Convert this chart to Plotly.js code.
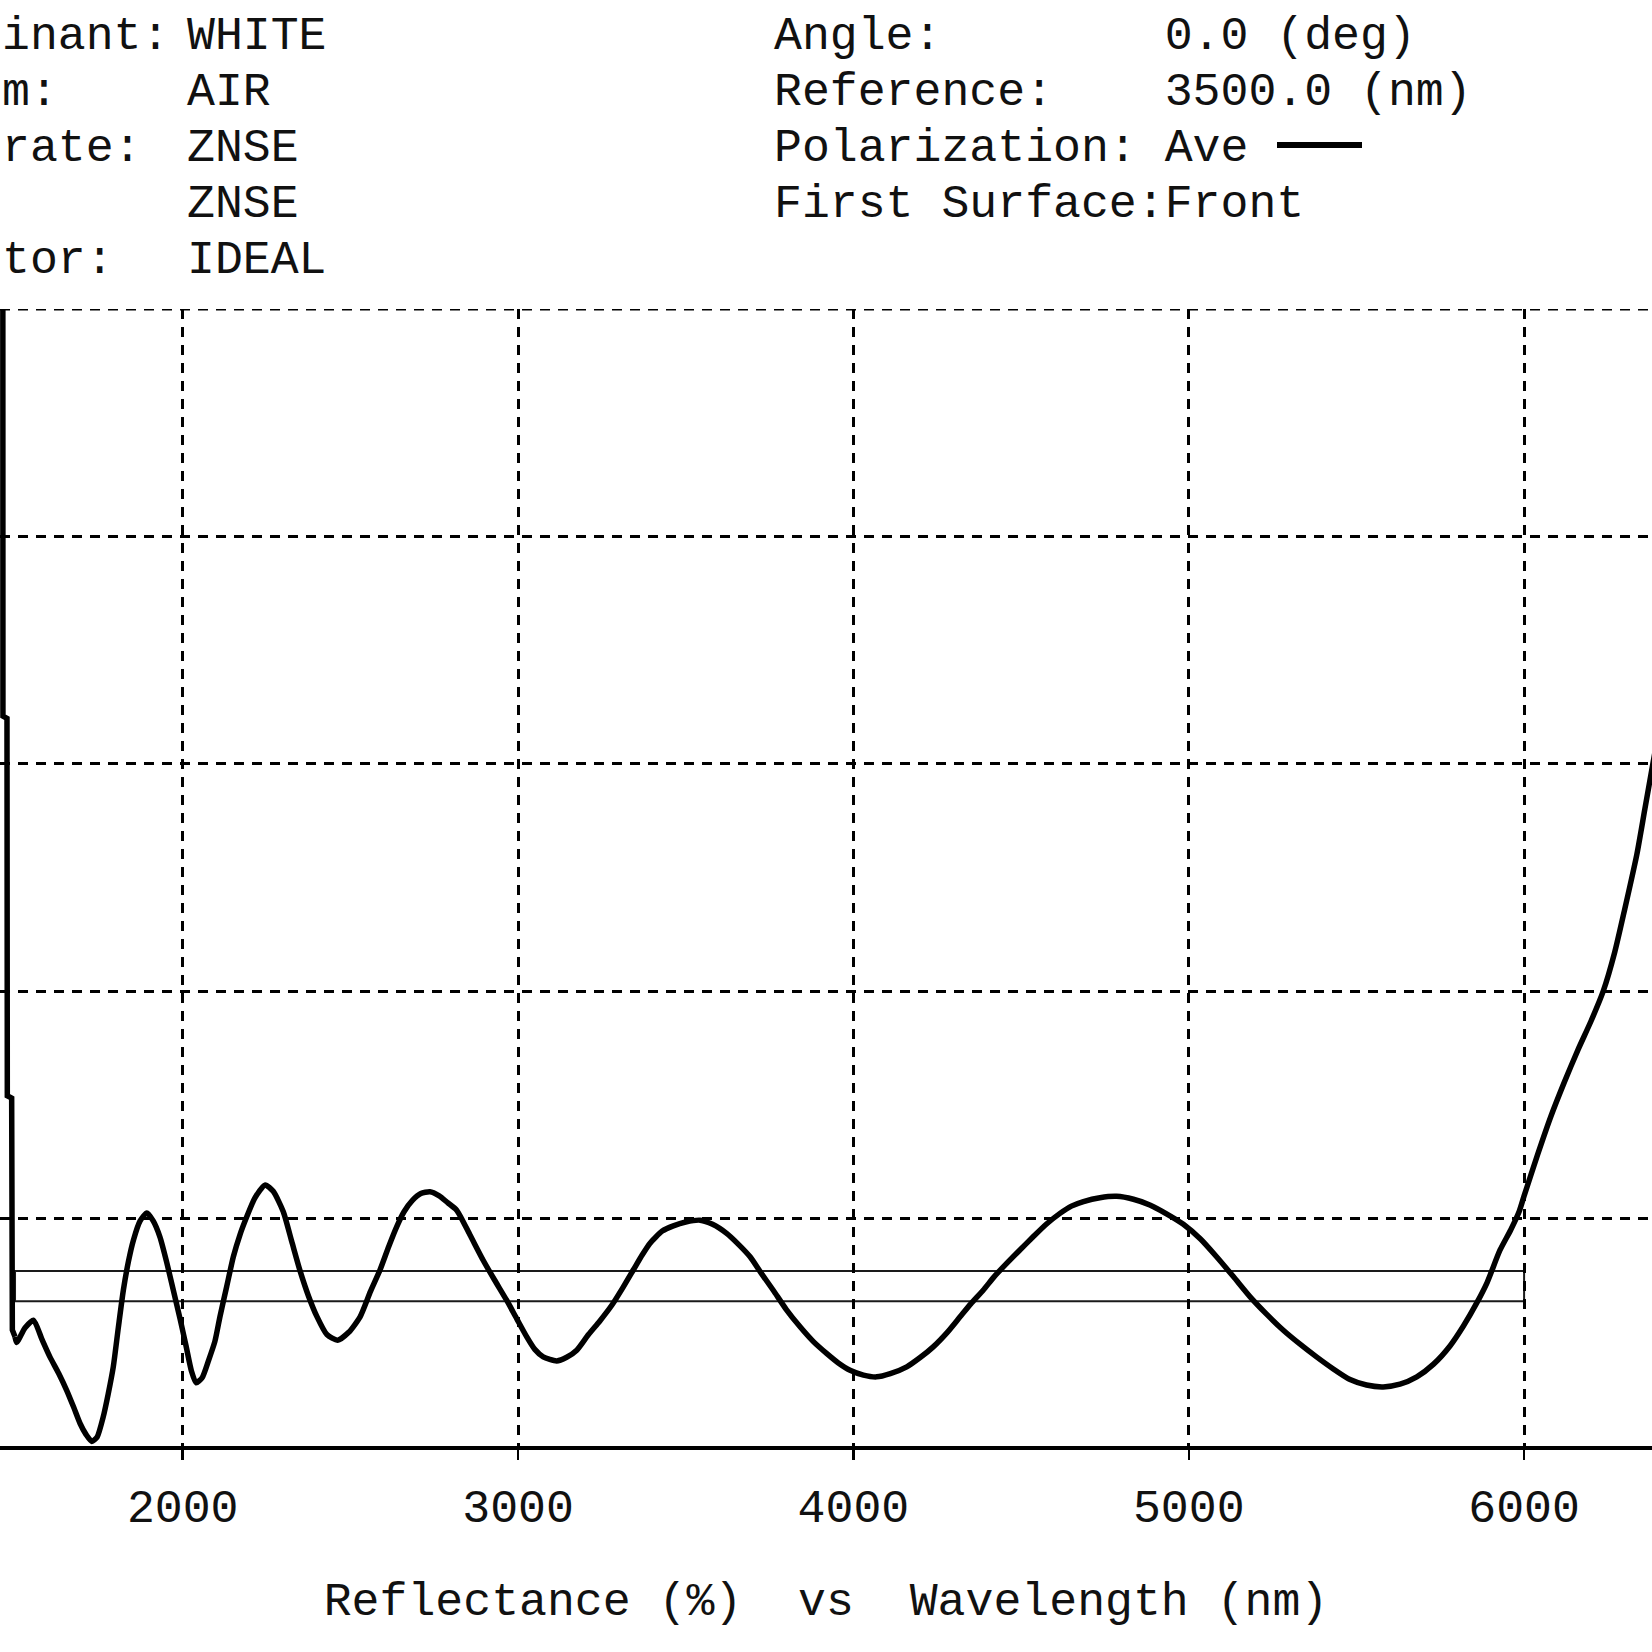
<!DOCTYPE html>
<html>
<head>
<meta charset="utf-8">
<script src="https://cdn.plot.ly/plotly-3.0.1.min.js"></script>
<style>
  html, body { margin: 0; padding: 0; background: #ffffff; }
  #chart { width: 1652px; height: 1652px; }
</style>
</head>
<body>
<div id="chart"></div>
<script>
// ---- data ----
const wavelengthNm = [
  1463, 1464, 1476, 1477, 1490, 1492, 1500, 1505, 1530, 1555,
  1580, 1604, 1630, 1654, 1675, 1694, 1712, 1729, 1745, 1763,
  1778, 1793, 1808, 1823, 1838, 1853, 1873, 1893, 1912, 1932,
  1952, 1972, 1992, 2010, 2026, 2040, 2058, 2078, 2096, 2111,
  2131, 2151, 2171, 2191, 2215, 2246, 2270, 2300, 2325, 2350,
  2375, 2400, 2430, 2462, 2495, 2529, 2560, 2588, 2615, 2638,
  2660, 2685, 2710, 2737, 2765, 2790, 2817, 2856, 2896, 2930,
  2966, 2996, 3026, 3050, 3075, 3115, 3145, 3175, 3210, 3244,
  3280, 3314, 3344, 3370, 3393, 3430, 3463, 3500, 3543, 3580,
  3622, 3655, 3692, 3725, 3761, 3800, 3841, 3880, 3920, 3955,
  3990, 4030, 4069, 4110, 4159, 4200, 4238, 4280, 4318, 4350,
  4387, 4420, 4457, 4495, 4536, 4575, 4616, 4650, 4686, 4735,
  4785, 4835, 4884, 4935, 4984, 5035, 5083, 5133, 5183, 5232,
  5282, 5330, 5381, 5430, 5481, 5530, 5580, 5630, 5680, 5730,
  5779, 5820, 5858, 5890, 5928, 5960, 5985, 6000, 6040, 6080,
  6120, 6160, 6200, 6236, 6270, 6300, 6336, 6360, 6390
];
const reflectancePct = [
  9.0, 3.21, 3.20, 1.54, 1.53, 0.51, 0.48, 0.455, 0.52, 0.553,
  0.47, 0.392, 0.32, 0.245, 0.17, 0.099, 0.05, 0.02, 0.04, 0.128,
  0.23, 0.348, 0.52, 0.685, 0.81, 0.905, 0.99, 1.025, 0.99, 0.92,
  0.81, 0.685, 0.56, 0.44, 0.33, 0.278, 0.30, 0.38, 0.46, 0.568,
  0.70, 0.832, 0.93, 1.008, 1.09, 1.148, 1.12, 1.03, 0.90, 0.77,
  0.66, 0.57, 0.49, 0.465, 0.50, 0.568, 0.68, 0.773, 0.88, 0.964,
  1.03, 1.08, 1.11, 1.118, 1.10, 1.07, 1.037, 0.93, 0.817, 0.73,
  0.641, 0.56, 0.48, 0.425, 0.392, 0.374, 0.39, 0.421, 0.49, 0.55,
  0.62, 0.70, 0.775, 0.84, 0.891, 0.945, 0.968, 0.985, 0.993, 0.975,
  0.935, 0.89, 0.832, 0.76, 0.685, 0.60, 0.524, 0.46, 0.407, 0.365,
  0.333, 0.312, 0.304, 0.318, 0.348, 0.39, 0.436, 0.50, 0.568, 0.625,
  0.685, 0.745, 0.803, 0.86, 0.92, 0.975, 1.023, 1.055, 1.075, 1.092,
  1.098, 1.085, 1.06, 1.02, 0.975, 0.91, 0.832, 0.745, 0.656, 0.58,
  0.509, 0.45, 0.392, 0.34, 0.292, 0.268, 0.26, 0.272, 0.304, 0.36,
  0.44, 0.53, 0.627, 0.72, 0.861, 0.95, 1.03, 1.10, 1.28, 1.45,
  1.60, 1.74, 1.87, 2.0, 2.17, 2.36, 2.6, 2.8, 3.05
];
// target band drawn as a box
const bandWavelengthNm = [1500, 6000];
const bandReflectancePct = [0.636, 0.770];

const xTickVals = [2000, 3000, 4000, 5000, 6000];
const xTickText = ['2000', '3000', '4000', '5000', '6000'];
const yGridVals = [0, 1, 2, 3, 4, 5];

// header block (left labels are cut by the picture edge in the reference)
const headerLeftLabels = ['inant:', 'm:', 'rate:', '', 'tor:'];
const headerLeftValues = ['WHITE', 'AIR', 'ZNSE', 'ZNSE', 'IDEAL'];
const headerRight = [
  'Angle:        0.0 (deg)',
  'Reference:    3500.0 (nm)',
  'Polarization: Ave',
  'First Surface:Front'
];
const chartTitle = 'Reflectance (%)  vs  Wavelength (nm)';

// ---- layout geometry (pixels) ----
const W = 1652, H = 1652;
const plotTop = 309.3, plotBottom = 1445.7;
const plotH = plotBottom - plotTop;
const px2paperX = (px) => px / W;
const px2paperY = (py) => (plotBottom - py) / plotH;
const nb = (s) => s.replace(/ /g, '\u00A0');

const FONT = '"Courier New", "Liberation Mono", "DejaVu Sans Mono", monospace';
const FS = 46.5;
const INK = '#111111';
const GRID_DASH = '10px,8px';

const rowY = [37, 93, 148.5, 204.5, 260.5];
const annotations = [];
function addText(t, xpx, ypx) {
  annotations.push({
    text: nb(t), xref: 'paper', yref: 'paper',
    x: px2paperX(xpx), y: px2paperY(ypx),
    xanchor: 'left', yanchor: 'middle', showarrow: false, borderpad: 0,
    font: { family: FONT, size: FS, color: INK }
  });
}
headerLeftLabels.forEach((t, i) => { if (t) addText(t, 1, rowY[i]); });
headerLeftValues.forEach((t, i) => addText(t, 185.5, rowY[i]));
headerRight.forEach((t, i) => addText(t, 773, rowY[i]));

const shapes = [
  {
    // top dashed grid line at the upper end of the range
    type: 'line', xref: 'paper', yref: 'y', layer: 'below',
    x0: 0, x1: 1, y0: yGridVals[yGridVals.length - 1], y1: yGridVals[yGridVals.length - 1],
    line: { color: '#000000', width: 3, dash: GRID_DASH }
  },
  {
    type: 'rect', xref: 'x', yref: 'y', layer: 'below',
    x0: bandWavelengthNm[0], x1: bandWavelengthNm[1],
    y0: bandReflectancePct[0], y1: bandReflectancePct[1],
    line: { color: '#1a1a1a', width: 2 }, fillcolor: 'rgba(0,0,0,0)'
  },
  {
    // legend sample line after "Ave"
    type: 'line', xref: 'paper', yref: 'paper',
    x0: px2paperX(1277), x1: px2paperX(1362),
    y0: px2paperY(145.5), y1: px2paperY(145.5),
    line: { color: '#000000', width: 6 }
  }
];

const nSteep = 7; // first samples: steep near-vertical edge drawn straight
const traceEdge = {
  type: 'scatter', mode: 'lines', name: 'Ave',
  x: wavelengthNm.slice(0, nSteep), y: reflectancePct.slice(0, nSteep),
  line: { color: '#000000', width: 5.5, shape: 'linear' },
  showlegend: false
};
const traceMain = {
  type: 'scatter', mode: 'lines', name: 'Ave',
  x: wavelengthNm.slice(nSteep - 1), y: reflectancePct.slice(nSteep - 1),
  line: { color: '#000000', width: 5.5, shape: 'spline', smoothing: 0.6 },
  showlegend: false
};

const layout = {
  width: W, height: H,
  paper_bgcolor: '#ffffff', plot_bgcolor: '#ffffff',
  margin: { l: 0, r: 0, t: plotTop, b: H - plotBottom, pad: 0 },
  showlegend: false,
  xaxis: {
    range: [1455.2, 6381.4],
    tickmode: 'array', tickvals: xTickVals, ticktext: xTickText,
    showgrid: true, gridcolor: '#000000', gridwidth: 3, griddash: GRID_DASH,
    showline: true, linecolor: '#000000', linewidth: 3.5,
    ticks: 'outside', ticklen: 10, tickwidth: 2.5, tickcolor: '#000000',
    tickfont: { family: FONT, size: FS, color: INK },
    ticklabelstandoff: 7,
    zeroline: false, automargin: false, fixedrange: true,
    title: { text: nb(chartTitle), font: { family: FONT, size: FS, color: INK }, standoff: 47.5 }
  },
  yaxis: {
    range: [0, 5],
    tickmode: 'array', tickvals: yGridVals,
    showticklabels: false, ticks: '',
    showgrid: true, gridcolor: '#000000', gridwidth: 3, griddash: GRID_DASH,
    showline: false, zeroline: false, automargin: false, fixedrange: true
  },
  annotations: annotations,
  shapes: shapes
};

Plotly.newPlot('chart', [traceEdge, traceMain], layout, { staticPlot: true, displayModeBar: false });
</script>
</body>
</html>
